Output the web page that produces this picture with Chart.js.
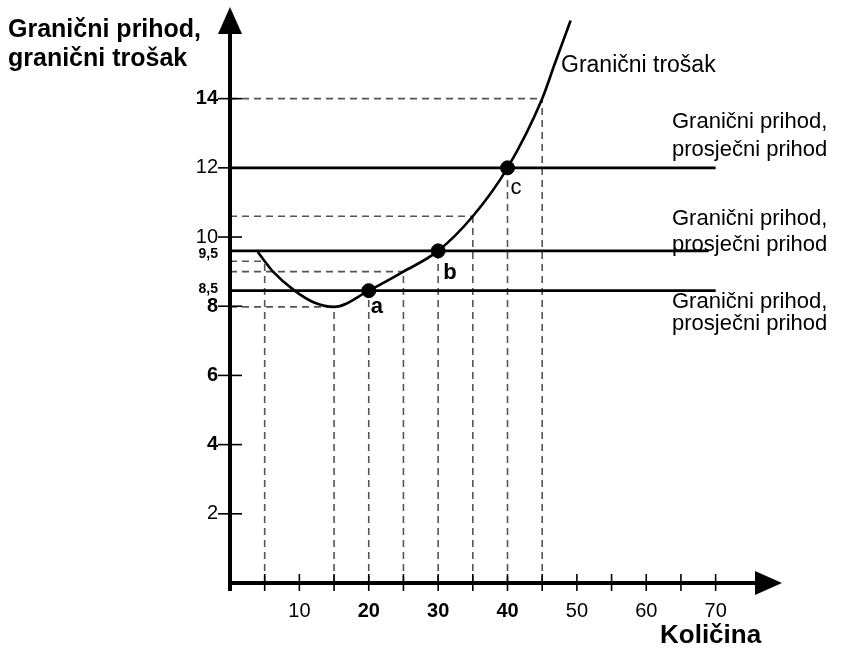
<!DOCTYPE html>
<html>
<head>
<meta charset="utf-8">
<script src="https://cdn.jsdelivr.net/npm/chart.js@4/dist/chart.umd.min.js"></script>
<style>
  html, body { margin: 0; padding: 0; background: #fff; }
  #wrap { width: 846px; height: 648px; }
</style>
</head>
<body>
<div id="wrap"><canvas id="myChart" width="846" height="648"></canvas></div>
<script>
// values
var qty = [4, 5, 6.2, 9.3, 12.2, 15, 20, 25, 30, 35, 40, 45, 46.8, 49.1];
var marginalCost = [9.57, 9.3, 9.0, 8.45, 8.1, 7.98, 8.45, 9.0, 9.6, 10.6, 12, 14, 15, 16.26];

var priceLevels = [8.45, 9.6, 12];
var priceLineEnd = [70, 69, 70];

var guideQty = [5, 15, 20, 25, 30, 35, 40, 45];
var guideCost = [9.3, 7.98, 8.45, 9.0, 9.6, 10.6, 12, 14];

var pointNames = ['a', 'b', 'c'];
var pointQty = [20, 30, 40];
var pointCost = [8.45, 9.6, 12];

var xTickLabels = [10, 20, 30, 40, 50, 60, 70];
var xTickMarks = [5, 10, 15, 20, 25, 30, 35, 40, 45, 50, 55, 60, 65, 70];
var yTickLabels = [2, 4, 6, 8, 8.5, 9.5, 10, 12, 14];
var yTickMarks = [2, 4, 6, 8, 10, 12, 14];
var boldX = [20, 30, 40];
var boldY = [4, 6, 8, 14, 8.5, 9.5];

var FONT = '"Liberation Sans", Arial, sans-serif';
var DASH = '#555';

var datasets = [];

datasets.push({
  label: 'points',
  data: pointQty.map((q, i) => ({ x: q, y: pointCost[i] })),
  showLine: false,
  pointRadius: 7,
  pointBackgroundColor: '#000',
  pointBorderColor: '#000',
  order: 0
});

datasets.push({
  label: 'Granični trošak',
  data: qty.map((q, i) => ({ x: q, y: marginalCost[i] })),
  showLine: true,
  borderColor: '#000',
  borderWidth: 2.6,
  pointRadius: 0,
  cubicInterpolationMode: 'monotone',
  order: 1
});

priceLevels.forEach(function(p, i) {
  datasets.push({
    label: 'prihod ' + p,
    data: [{ x: 0, y: p }, { x: priceLineEnd[i], y: p }],
    showLine: true,
    borderColor: '#000',
    borderWidth: 2.6,
    pointRadius: 0,
    order: 2
  });
});

guideQty.forEach(function(q, i) {
  var c = guideCost[i];
  datasets.push({
    label: 'v' + q,
    data: [{ x: q, y: 0 }, { x: q, y: c }],
    showLine: true,
    borderColor: DASH,
    borderWidth: 1.6,
    borderDash: [7, 5],
    pointRadius: 0,
    order: 3
  });
  if (priceLevels.indexOf(c) < 0) {
    datasets.push({
      label: 'h' + q,
      data: [{ x: 0, y: c }, { x: q, y: c }],
      showLine: true,
      borderColor: DASH,
      borderWidth: 1.6,
      borderDash: [7, 5],
      pointRadius: 0,
      order: 3
    });
  }
});

var axesPlugin = {
  id: 'axesPlugin',
  afterDatasetsDraw: function(chart) {
    var ctx = chart.ctx;
    var xs = chart.scales.x, ys = chart.scales.y;
    var ox = xs.getPixelForValue(0), oy = ys.getPixelForValue(0);
    var top = chart.chartArea.top;
    ctx.save();
    ctx.strokeStyle = '#000';
    ctx.fillStyle = '#000';

    // tick marks
    ctx.lineWidth = 1.6;
    xTickMarks.forEach(function(v) {
      var px = xs.getPixelForValue(v);
      ctx.beginPath(); ctx.moveTo(px, oy - 9); ctx.lineTo(px, oy + 8); ctx.stroke();
    });
    yTickMarks.forEach(function(v) {
      var py = ys.getPixelForValue(v);
      ctx.beginPath(); ctx.moveTo(ox - 12, py); ctx.lineTo(ox + 12, py); ctx.stroke();
    });

    // axes
    ctx.lineWidth = 4;
    ctx.beginPath(); ctx.moveTo(ox, oy + 8); ctx.lineTo(ox, top + 22); ctx.stroke();
    ctx.beginPath(); ctx.moveTo(ox - 2, oy); ctx.lineTo(758, oy); ctx.stroke();
    ctx.beginPath();
    ctx.moveTo(ox, top - 1); ctx.lineTo(ox - 12, top + 26); ctx.lineTo(ox + 12, top + 26);
    ctx.closePath(); ctx.fill();
    ctx.beginPath();
    ctx.moveTo(782, oy); ctx.lineTo(755, oy - 12); ctx.lineTo(755, oy + 12);
    ctx.closePath(); ctx.fill();

    // texts
    ctx.textAlign = 'left';
    ctx.textBaseline = 'alphabetic';
    ctx.font = 'bold 25px ' + FONT;
    ctx.fillText('Granični prihod,', 8, 37);
    ctx.fillText('granični trošak', 8, 66);

    ctx.font = 'bold 26px ' + FONT;
    ctx.fillText('Količina', 660, 643);

    ctx.font = '23px ' + FONT;
    ctx.fillText('Granični trošak', 561, 72);

    ctx.font = '22px ' + FONT;
    var offs = [[17, 39], [-26, 0], [-40, -12]];
    priceLevels.forEach(function(p, i) {
      var py = ys.getPixelForValue(p);
      ctx.fillText('Granični prihod,', 672, py + offs[i][0]);
      ctx.fillText('prosječni prihod', 672, py + offs[i][1]);
    });

    var lab = [[2, 22, 'bold '], [5, 28, 'bold '], [3, 26, '']];
    pointNames.forEach(function(n, i) {
      var px = xs.getPixelForValue(pointQty[i]), py = ys.getPixelForValue(pointCost[i]);
      ctx.font = lab[i][2] + '22px ' + FONT;
      ctx.fillText(n, px + lab[i][0], py + lab[i][1]);
    });
    ctx.restore();
  }
};

var ctx = document.getElementById('myChart').getContext('2d');
var myChart = new Chart(ctx, {
  type: 'scatter',
  data: { datasets: datasets },
  plugins: [axesPlugin],
  options: {
    responsive: false,
    animation: false,
    layout: { padding: { left: 0, right: 61, top: 1, bottom: 0 } },
    plugins: { legend: { display: false }, tooltip: { enabled: false } },
    elements: { line: { tension: 0 } },
    clip: false,
    scales: {
      x: {
        type: 'linear',
        min: 0,
        max: 80,
        border: { display: false },
        grid: { display: false, drawTicks: false },
        afterBuildTicks: function(scale) {
          scale.ticks = xTickLabels.map(v => ({ value: v }));
        },
        afterFit: function(scale) {
          scale.height = 65;
          scale.paddingLeft = 0; scale.paddingRight = 0;
        },
        ticks: {
          padding: 16,
          color: '#000',
          maxRotation: 0,
          autoSkip: false,
          font: function(c) {
            var v = c.tick ? c.tick.value : 0;
            return { family: FONT, size: 20, weight: boldX.indexOf(v) >= 0 ? 'bold' : 'normal' };
          }
        }
      },
      y: {
        type: 'linear',
        min: 0,
        max: 16.62,
        border: { display: false },
        grid: { display: false, drawTicks: false },
        afterBuildTicks: function(scale) {
          scale.ticks = yTickLabels.map(v => ({ value: v }));
        },
        afterFit: function(scale) {
          scale.width = 230;
          scale.paddingTop = 0; scale.paddingBottom = 0;
        },
        ticks: {
          padding: 12,
          color: '#000',
          autoSkip: false,
          callback: function(v) { return String(v).replace('.', ','); },
          font: function(c) {
            var v = c.tick ? c.tick.value : 0;
            var small = v % 1 !== 0;
            return { family: FONT, size: small ? 14 : 20, weight: boldY.indexOf(v) >= 0 ? 'bold' : 'normal' };
          }
        }
      }
    }
  }
});
</script>
</body>
</html>
